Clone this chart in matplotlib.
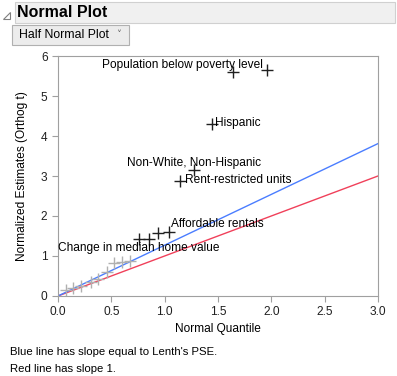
import matplotlib
matplotlib.use("Agg")
import matplotlib.pyplot as plt
from matplotlib.patches import Rectangle, Polygon

plt.rcParams['font.family'] = ['Liberation Sans', 'DejaVu Sans']

# half normal quantile vs normalized estimate
quantile = [0.08, 0.14, 0.22, 0.31, 0.38, 0.46, 0.53, 0.60, 0.675,
            0.76, 0.85, 0.94, 1.04, 1.14, 1.28, 1.44, 1.64, 1.96]
estimate = [0.15, 0.19, 0.25, 0.36, 0.42, 0.61, 0.82, 0.84, 0.88,
            1.42, 1.42, 1.57, 1.61, 2.88, 3.15, 4.30, 5.60, 5.65]
significant = [False] * 9 + [True] * 9

# label text and where it sits (data coords, anchor)
label_text = ["Population below poverty level", "Hispanic", "Non-White, Non-Hispanic",
              "Rent-restricted units", "Affordable rentals", "Change in median home value"]
label_x = [1.92, 1.47, 1.28, 1.19, 1.06, 0.0]
label_y = [5.78, 4.33, 3.33, 2.90, 1.80, 1.20]
label_ha = ["right", "left", "center", "left", "left", "left"]

lenth_slope = 1.27
unit_slope = 1.0
x_line = [0.0, 3.0]

fs = 8.6

fig = plt.figure(figsize=(3.97, 3.76), dpi=100)
ax = fig.add_axes([0.146, 0.2128, 0.806, 0.6382])

ax.plot(x_line, [v * unit_slope for v in x_line], color="#f0405a", lw=1.0)
ax.plot(x_line, [v * lenth_slope for v in x_line], color="#4a7dff", lw=1.0)

for q, e, s in zip(quantile, estimate, significant):
    ax.plot(q, e, marker="+", ms=8, mew=1.0,
            color="#202020" if s else "#b0b0b0", ls="none")

for txt, lx, ly, ha in zip(label_text, label_x, label_y, label_ha):
    ax.text(lx, ly, txt, ha=ha, va="center", fontsize=fs)

ax.set_xlim(0, 3.0)
ax.set_ylim(0, 6)
ax.set_xticks([0.0, 0.5, 1.0, 1.5, 2.0, 2.5, 3.0])
ax.set_xticklabels(["0.0", "0.5", "1.0", "1.5", "2.0", "2.5", "3.0"])
ax.set_yticks(range(7))
for sp in ax.spines.values():
    sp.set_color("#a0a0a0")
ax.tick_params(colors="#a0a0a0", labelcolor="#202020", labelsize=fs, length=4)
ax.set_xlabel("Normal Quantile", fontsize=fs, labelpad=3)
ax.set_ylabel("Normalized Estimates (Orthog t)", fontsize=fs, labelpad=9)

# header band
fig.patches.append(Rectangle((15 / 397, 1 - 23 / 376), 380 / 397, 21 / 376,
                             transform=fig.transFigure, fc="#f0f0f0", ec="#d0d0d0", lw=0.8))
fig.patches.append(Polygon([(3 / 397, 1 - 19 / 376), (10 / 397, 1 - 19 / 376), (10 / 397, 1 - 12 / 376)],
                           closed=True, transform=fig.transFigure, fc="white", ec="#808080", lw=0.8))
fig.text(17 / 397, 1 - 12.5 / 376, "Normal Plot", fontsize=11.5, fontweight="bold", va="center")

# dropdown button
fig.patches.append(Rectangle((12 / 397, 1 - 45 / 376), 117 / 397, 20 / 376,
                             transform=fig.transFigure, fc="#ececec", ec="#b0b0b0", lw=0.8))
fig.text(19 / 397, 1 - 35.5 / 376, "Half Normal Plot", fontsize=8.8, va="center")
fig.text(116 / 397, 1 - 35 / 376, "\u02c5", fontsize=7, va="center", color="#606060", family="DejaVu Sans")

# footer notes
fig.text(10 / 397, 1 - 352 / 376, "Blue line has slope equal to Lenth's PSE.", fontsize=8.2, va="center")
fig.text(10 / 397, 1 - 369 / 376, "Red line has slope 1.", fontsize=8.2, va="center")

fig.savefig("out.png", dpi=100)
